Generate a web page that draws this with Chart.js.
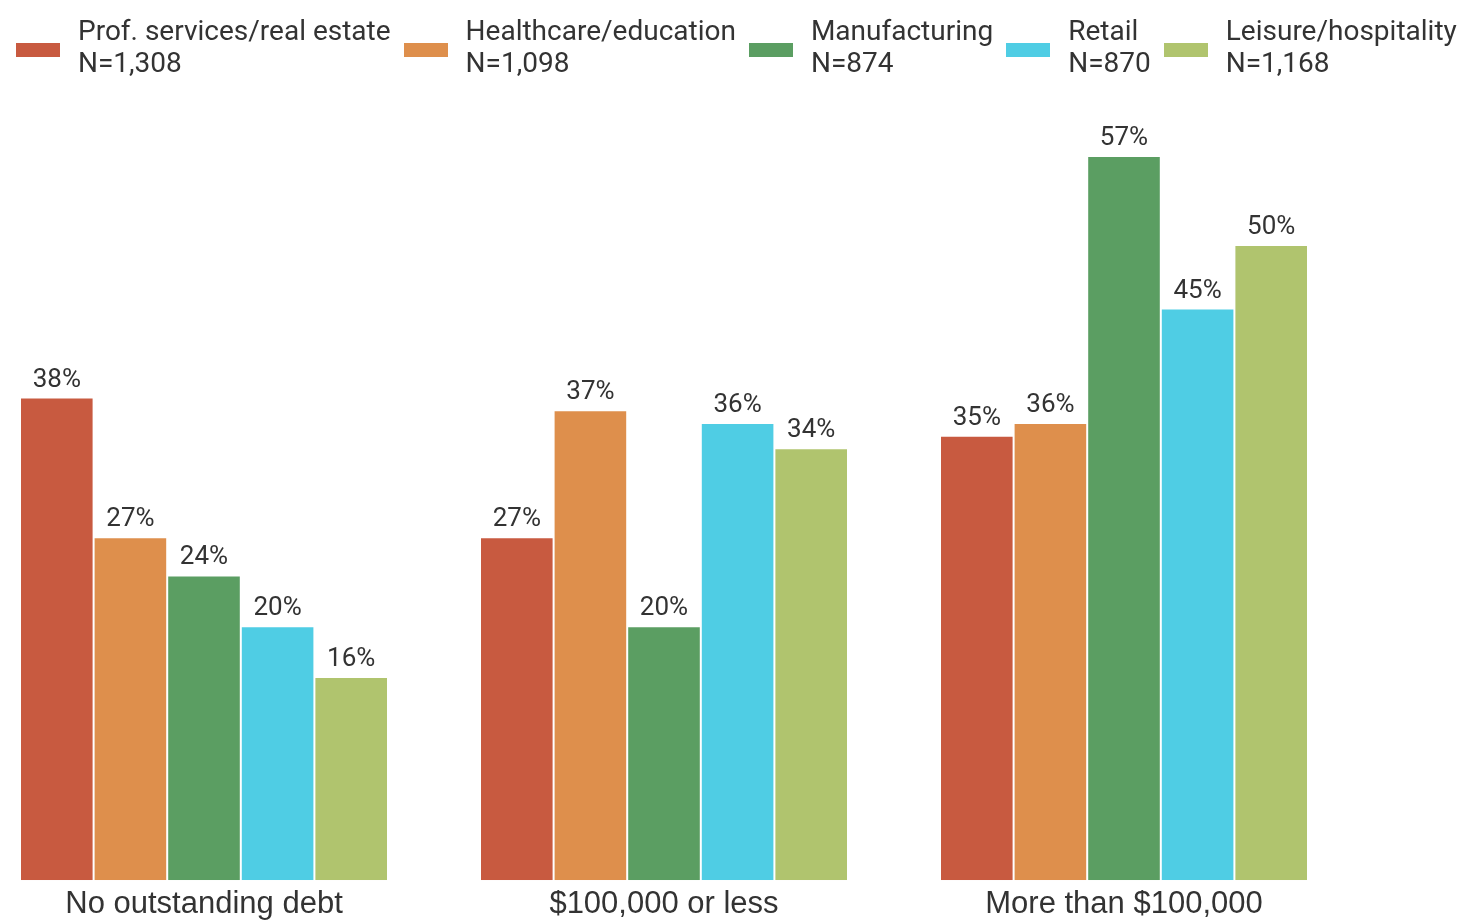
<!DOCTYPE html>
<html><head><meta charset="utf-8">
<script src="https://cdn.jsdelivr.net/npm/chart.js@4/dist/chart.umd.min.js"></script>
<style>
html,body{margin:0;padding:0;background:#fff;width:1460px;height:922px;overflow:hidden;position:relative;}
#legend{position:absolute;left:16px;top:15px;display:flex;font-family:Roboto,sans-serif;font-size:28px;line-height:31.5px;color:#333;white-space:nowrap;}
.item{display:flex;align-items:flex-start;margin-right:13px;}
.sw{width:44px;height:14px;margin-top:28px;margin-right:18px;flex:none;}
#wrap{position:absolute;left:-26px;top:0;width:1380px;height:928px;}
</style></head><body>
<div id="wrap"><canvas id="c" width="1380" height="928"></canvas></div>
<div id="legend"></div>
<script>
const categories = ['No outstanding debt', '$100,000 or less', 'More than $100,000'];
const seriesNames = ['Prof. services/real estate', 'Healthcare/education', 'Manufacturing', 'Retail', 'Leisure/hospitality'];
const sampleSizes = ['N=1,308', 'N=1,098', 'N=874', 'N=870', 'N=1,168'];
const profServices = [38, 27, 35];
const healthcare = [27, 37, 36];
const manufacturing = [24, 20, 57];
const retail = [20, 36, 45];
const leisure = [16, 34, 50];
const seriesValues = [profServices, healthcare, manufacturing, retail, leisure];
const colors = ['#C85A40', '#DE8F4C', '#5B9E62', '#4FCDE4', '#B0C46E'];

// HTML legend
const legendEl = document.getElementById('legend');
seriesNames.forEach((name, i) => {
  const item = document.createElement('div');
  item.className = 'item';
  const sw = document.createElement('div');
  sw.className = 'sw';
  sw.style.background = colors[i];
  const txt = document.createElement('div');
  txt.innerHTML = name + '<br>' + sampleSizes[i];
  item.appendChild(sw);
  item.appendChild(txt);
  legendEl.appendChild(item);
});

const valueLabels = {
  id: 'valueLabels',
  afterDatasetsDraw(chart) {
    const ctx = chart.ctx;
    ctx.save();
    ctx.font = '26px Roboto';
    ctx.fillStyle = '#333';
    ctx.textAlign = 'center';
    ctx.textBaseline = 'alphabetic';
    chart.data.datasets.forEach((ds, i) => {
      const meta = chart.getDatasetMeta(i);
      meta.data.forEach((bar, j) => {
        ctx.fillText(ds.data[j] + '%', bar.x, bar.y - 11);
      });
    });
    ctx.restore();
  }
};

function build() {
  new Chart(document.getElementById('c'), {
    type: 'bar',
    data: {
      labels: categories,
      datasets: seriesNames.map((n, i) => ({
        label: n,
        data: seriesValues[i],
        backgroundColor: colors[i],
        borderColor: 'rgba(255,255,255,0.4)',
        borderWidth: 1,
        borderSkipped: 'bottom',
        barPercentage: 1,
        categoryPercentage: 0.8
      }))
    },
    options: {
      responsive: false,
      animation: false,
      devicePixelRatio: 1,
      layout: { padding: { top: 118, left: 0, right: 0, bottom: 0 } },
      scales: {
        x: {
          grid: { display: false, drawTicks: false },
          border: { display: false },
          ticks: {
            font: { family: 'Liberation Sans', size: 31, lineHeight: 1.15 },
            color: '#333',
            padding: 6,
            maxRotation: 0,
            autoSkip: false
          }
        },
        y: { display: false, min: 0, max: 60 }
      },
      plugins: { legend: { display: false }, tooltip: { enabled: false } }
    },
    plugins: [valueLabels]
  });
}
Promise.all([
  document.fonts.load('26px Roboto'),
  document.fonts.load('31px "Liberation Sans"')
]).then(build, build);
</script>
</body></html>
